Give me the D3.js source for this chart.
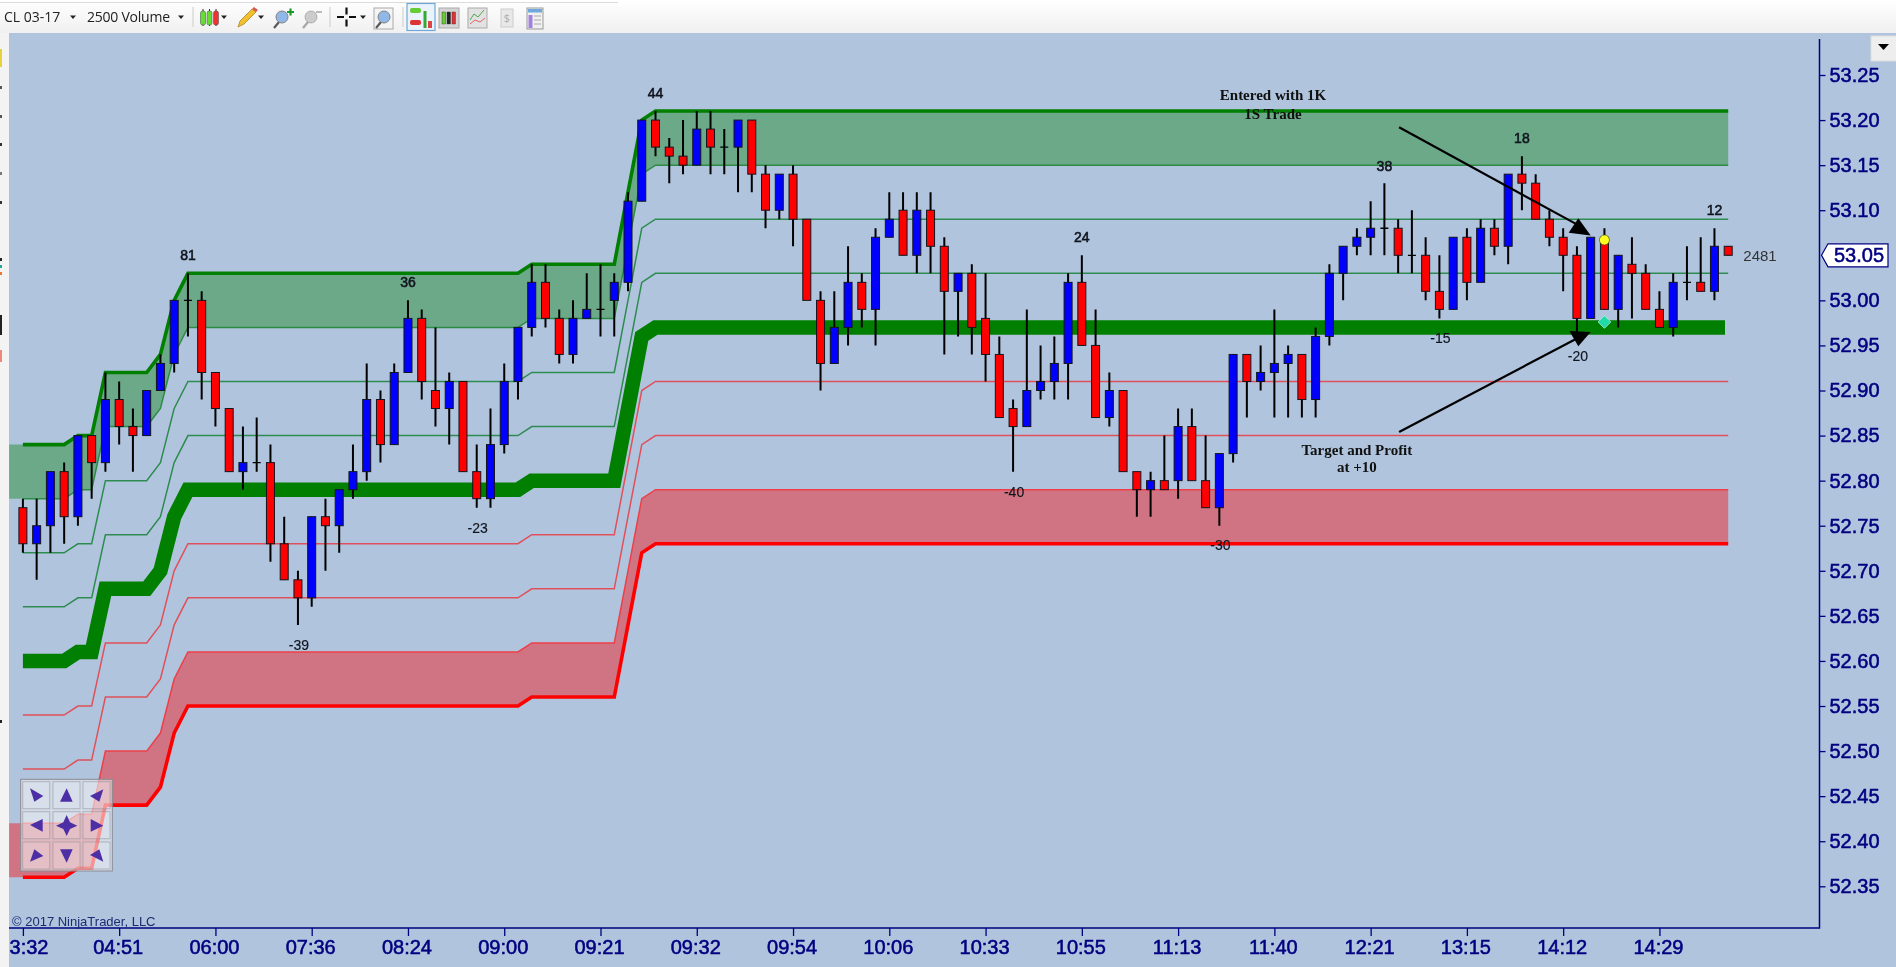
<!DOCTYPE html>
<html><head><meta charset="utf-8">
<script src="https://cdnjs.cloudflare.com/ajax/libs/d3/7.8.5/d3.min.js"></script>
<style>html,body{margin:0;padding:0;background:#B0C4DE;overflow:hidden}svg{display:block;filter:blur(0.45px)}</style>
</head><body><svg id="c" width="1896" height="967"></svg>
<script>
const opens=[52.77,52.73,52.75,52.81,52.76,52.85,52.82,52.89,52.86,52.85,
52.90,52.93,53.00,53.00,52.92,52.88,52.81,52.82,52.82,52.73,
52.69,52.67,52.76,52.75,52.79,52.81,52.89,52.84,52.92,52.98,
52.90,52.88,52.91,52.81,52.78,52.84,52.91,52.97,53.02,52.98,
52.94,52.98,52.99,53.00,53.02,53.11,53.20,53.17,53.16,53.15,
53.19,53.17,53.17,53.20,53.14,53.10,53.14,53.09,53.00,52.93,
52.97,53.02,52.99,53.07,53.10,53.05,53.10,53.06,53.01,53.03,
52.98,52.94,52.88,52.86,52.90,52.91,52.93,53.02,52.95,52.87,
52.90,52.81,52.79,52.80,52.80,52.86,52.80,52.77,52.83,52.94,
52.91,52.92,52.93,52.94,52.89,52.96,53.03,53.06,53.07,53.08,
53.08,53.05,53.05,53.01,52.99,53.07,53.02,53.08,53.06,53.14,
53.13,53.09,53.07,53.05,52.98,53.07,52.99,53.04,53.03,52.99,
52.97,53.02,53.02,53.01,53.06];
const closes=[52.73,52.75,52.81,52.76,52.85,52.82,52.89,52.86,52.85,52.90,
52.93,53.00,53.00,52.92,52.88,52.81,52.82,52.82,52.73,52.69,
52.67,52.76,52.75,52.79,52.81,52.89,52.84,52.92,52.98,52.91,
52.88,52.91,52.81,52.78,52.84,52.91,52.97,53.02,52.98,52.94,
52.98,52.99,52.99,53.02,53.11,53.20,53.17,53.16,53.15,53.19,
53.17,53.17,53.20,53.14,53.10,53.14,53.09,53.00,52.93,52.97,
53.02,52.99,53.07,53.09,53.05,53.10,53.06,53.01,53.03,52.97,
52.94,52.87,52.86,52.90,52.91,52.93,53.02,52.95,52.87,52.90,
52.81,52.79,52.80,52.79,52.86,52.80,52.77,52.83,52.94,52.91,
52.92,52.93,52.94,52.89,52.96,53.03,53.06,53.07,53.08,53.08,
53.05,53.05,53.01,52.99,53.07,53.02,53.08,53.06,53.14,53.13,
53.09,53.07,53.05,52.98,53.07,52.99,53.05,53.03,52.99,52.97,
53.02,53.02,53.01,53.06,53.05];
const highs=[52.78,52.78,52.81,52.82,52.85,52.85,52.92,52.91,52.88,52.90,
52.94,53.00,53.03,53.01,52.92,52.88,52.86,52.87,52.84,52.76,
52.70,52.76,52.78,52.79,52.84,52.93,52.90,52.93,53.00,52.99,
52.97,52.92,52.91,52.84,52.88,52.93,52.97,53.04,53.04,52.99,
53.00,53.03,53.04,53.03,53.12,53.20,53.21,53.18,53.20,53.21,
53.21,53.19,53.20,53.20,53.15,53.14,53.15,53.09,53.01,53.01,
53.06,53.03,53.08,53.12,53.12,53.12,53.12,53.07,53.03,53.04,
53.03,52.96,52.89,52.99,52.95,52.96,53.03,53.05,52.99,52.92,
52.90,52.81,52.81,52.85,52.88,52.88,52.85,52.83,52.94,52.94,
52.95,52.99,52.95,52.94,52.97,53.04,53.06,53.08,53.11,53.13,
53.09,53.10,53.07,53.05,53.07,53.08,53.09,53.09,53.14,53.16,
53.14,53.10,53.08,53.06,53.07,53.08,53.05,53.07,53.04,53.01,
53.03,53.06,53.07,53.08,53.06];
const lows=[52.72,52.69,52.72,52.73,52.75,52.78,52.81,52.84,52.81,52.85,
52.90,52.92,52.96,52.89,52.86,52.81,52.79,52.81,52.71,52.69,
52.64,52.66,52.70,52.72,52.78,52.80,52.82,52.84,52.92,52.89,
52.86,52.84,52.81,52.77,52.77,52.83,52.89,52.96,52.97,52.93,
52.93,52.98,52.96,52.96,53.01,53.11,53.16,53.13,53.14,53.15,
53.14,53.14,53.12,53.12,53.08,53.09,53.06,53.00,52.90,52.93,
52.95,52.97,52.95,53.07,53.05,53.03,53.03,52.94,52.96,52.94,
52.91,52.87,52.81,52.86,52.89,52.89,52.89,52.95,52.87,52.86,
52.81,52.76,52.76,52.79,52.78,52.80,52.77,52.75,52.82,52.87,
52.90,52.87,52.87,52.87,52.87,52.95,53.00,53.05,53.05,53.05,
53.03,53.03,53.00,52.98,52.99,53.00,53.02,53.05,53.04,53.10,
53.09,53.06,53.01,52.96,52.98,52.99,52.97,52.98,52.99,52.97,
52.96,53.00,53.01,53.00,53.05];

// Band breakpoints (bar index, first entry starts left of the first visible bar)
const bandBars=[-1,0,3,4,5,6,9,10,11,12,36,37,43,44,45,46,124];
const bandUpper3=[52.84,52.84,52.84,52.85,52.85,52.92,52.92,52.94,53.00,53.03,53.03,53.04,53.04,53.12,53.20,53.21,53.21];
const bandUpper2=[52.78,52.78,52.78,52.79,52.79,52.86,52.86,52.88,52.94,52.97,52.97,52.98,52.98,53.06,53.14,53.15,53.15];
const bandUpper1=[52.72,52.72,52.72,52.73,52.73,52.80,52.80,52.82,52.88,52.91,52.91,52.92,52.92,53.00,53.08,53.09,53.09];
const bandUpper0=[52.66,52.66,52.66,52.67,52.67,52.74,52.74,52.76,52.82,52.85,52.85,52.86,52.86,52.94,53.02,53.03,53.03];
const bandCenter=[52.60,52.60,52.60,52.61,52.61,52.68,52.68,52.70,52.76,52.79,52.79,52.80,52.80,52.88,52.96,52.97,52.97];
const bandLower0=[52.54,52.54,52.54,52.55,52.55,52.62,52.62,52.64,52.70,52.73,52.73,52.74,52.74,52.82,52.90,52.91,52.91];
const bandLower1=[52.48,52.48,52.48,52.49,52.49,52.56,52.56,52.58,52.64,52.67,52.67,52.68,52.68,52.76,52.84,52.85,52.85];
const bandLower2=[52.42,52.42,52.42,52.43,52.43,52.50,52.50,52.52,52.58,52.61,52.61,52.62,52.62,52.70,52.78,52.79,52.79];
const bandLower3=[52.36,52.36,52.36,52.37,52.37,52.44,52.44,52.46,52.52,52.55,52.55,52.56,52.56,52.64,52.72,52.73,52.73];

const timeLabels=["3:32","04:51","06:00","07:36","08:24","09:00","09:21","09:32","09:54","10:06","10:33","10:55","11:13","11:40","12:21","13:15","14:12","14:29"];
const priceTicks=[53.25,53.20,53.15,53.10,53.00,52.95,52.90,52.85,52.80,52.75,52.70,52.65,52.60,52.55,52.50,52.45,52.40,52.35];
const swingText=["81","36","-23","-39","44","24","-40","-30","38","18","12","-15","-20"];
const swingBar=[12,28,33,20,46,77,72,87,99,109,123,103,113];
const swingPrice=[53.05,53.02,52.747,52.618,53.23,53.07,52.787,52.729,53.149,53.18,53.10,52.958,52.938];
const noteText=["Entered with 1K","1S Trade","Target and Profit","at +10"];
const noteBar=[90.9,90.9,97,97];
const notePrice=[53.228,53.207,52.834,52.815];
const arrowLineBars=[[100.07,113.03],[100.07,113.03]];
const arrowLinePrices=[[53.192,53.084],[52.854,52.958]];
const arrowHeadBars=[[113.1,112.4,114],[112.45,114,113.1]];
const arrowHeadPrices=[[53.091,53.075,53.072],[52.966,52.965,52.949]];
const lastPrice=53.05, lastVolume="2481", entryBar=115, entryPrice=53.067, exitPrice=52.976;

const svg=d3.select("#c");
const L=9,R=1819.5,T=33,B=928;
const x=d3.scaleLinear().domain([0,124]).range([22.9,1728.2]);
const y=d3.scaleLinear().domain([52.35,53.25]).range([886.3,75]);
const NAVY="#000080";

const defs=svg.append("defs");
defs.append("clipPath").attr("id","plot").append("rect").attr("x",L).attr("y",T).attr("width",R-L).attr("height",967-T);
defs.append("clipPath").attr("id","centerClip").append("rect").attr("x",0).attr("y",T).attr("width",1725).attr("height",967-T);
svg.append("rect").attr("width",1896).attr("height",967).attr("fill","#B0C4DE");
const plot=svg.append("g").attr("clip-path","url(#plot)");

// Bands
const idx=bandBars.map((b,i)=>i);
const fillArea=(hi,lo,col)=>plot.append("path").attr("fill",col)
  .attr("d",d3.area().x(i=>x(bandBars[i])).y0(i=>y(lo[i])).y1(i=>y(hi[i]))(idx));
fillArea(bandUpper3,bandUpper2,"#6CA989");
fillArea(bandLower2,bandLower3,"#D07484");
const lineFn=arr=>d3.line().x(i=>x(bandBars[i])).y(i=>y(arr[i]))(idx.slice(1));
[[bandUpper2,"#2E8B45",1.5],[bandUpper1,"#2E8B50",1.5],[bandUpper0,"#2E8B50",1.5],
 [bandLower0,"#E0505A",1.5],[bandLower1,"#E0505A",1.5],[bandLower2,"#EE3F48",1.5],
 [bandCenter,"#007F00",14.5],[bandUpper3,"#007F00",3.6],[bandLower3,"#FF0000",3.6]]
 .forEach(([a,c,w])=>plot.append("path").attr("fill","none").attr("stroke",c).attr("stroke-width",w).attr("stroke-linejoin","miter")
   .attr("clip-path",a===bandCenter?"url(#centerClip)":null).attr("d",lineFn(a)));

// Candles
const bars=plot.append("g").selectAll("g").data(opens.map((o,i)=>i)).join("g");
bars.append("line").attr("x1",i=>x(i)).attr("x2",i=>x(i)).attr("y1",i=>y(highs[i])).attr("y2",i=>y(lows[i]))
  .attr("stroke","#000").attr("stroke-width",2);
bars.filter(i=>opens[i]!==closes[i]).append("rect")
  .attr("x",i=>x(i)-4).attr("width",8)
  .attr("y",i=>y(Math.max(opens[i],closes[i])))
  .attr("height",i=>Math.abs(y(opens[i])-y(closes[i])))
  .attr("fill",i=>closes[i]>opens[i]?"#0000FF":"#FF0000")
  .attr("stroke","#14141e").attr("stroke-width",1);
bars.filter(i=>opens[i]===closes[i]).append("line")
  .attr("x1",i=>x(i)-4).attr("x2",i=>x(i)+4).attr("y1",i=>y(opens[i])).attr("y2",i=>y(opens[i]))
  .attr("stroke","#000").attr("stroke-width",1.3);

// Entry / exit markers
plot.append("circle").attr("cx",x(entryBar)).attr("cy",y(entryPrice)).attr("r",5).attr("fill","#FFFF20").attr("stroke","#5a5a20").attr("stroke-width",.7);
plot.append("path").attr("d",d3.symbol(d3.symbolSquare,80)()).attr("transform",`translate(${x(entryBar)},${y(exitPrice)}) rotate(45)`)
  .attr("fill","#20D8A8").attr("stroke","#9ff0d8").attr("stroke-width",.8);

// Drawn arrows
arrowLineBars.forEach((b,k)=>plot.append("line").attr("x1",x(b[0])).attr("x2",x(b[1]))
  .attr("y1",y(arrowLinePrices[k][0])).attr("y2",y(arrowLinePrices[k][1])).attr("stroke","#000").attr("stroke-width",2.2));
arrowHeadBars.forEach((b,k)=>plot.append("path").attr("fill","#000")
  .attr("d","M"+b.map((v,j)=>x(v)+","+y(arrowHeadPrices[k][j])).join("L")+"Z"));

// Swing labels
plot.append("g").selectAll("text").data(swingText).join("text")
  .attr("x",(d,i)=>x(swingBar[i])+(d[0]==="-"?1:0)).attr("y",(d,i)=>y(swingPrice[i]))
  .attr("text-anchor","middle").attr("dominant-baseline","central")
  .attr("font-family","'Liberation Sans',Arial,sans-serif").attr("font-size",14).attr("fill","#10141c")
  .attr("stroke","#10141c").attr("stroke-width",d=>d[0]==="-"?.15:.55).text(d=>d);

// Notes
plot.append("g").selectAll("text").data(noteText).join("text")
  .attr("x",(d,i)=>x(noteBar[i])).attr("y",(d,i)=>y(notePrice[i]))
  .attr("text-anchor","middle").attr("dominant-baseline","central")
  .attr("font-family","'Liberation Serif',serif").attr("font-weight","bold").attr("font-size",15).attr("fill","#101010").text(d=>d);

// Axes
const tickBars=timeLabels.map((d,i)=>i*7);
const xAxis=d3.axisBottom(x).tickValues(tickBars).tickFormat((d,i)=>timeLabels[i]).tickSize(8).tickPadding(4).tickSizeOuter(0);
const gx=svg.append("g").attr("transform",`translate(0,${B})`).call(xAxis);
const yAxis=d3.axisRight(y).tickValues(priceTicks).tickFormat(d3.format(".2f")).tickSize(6).tickPadding(4).tickSizeOuter(0);
const gy=svg.append("g").attr("transform",`translate(${R},0)`).call(yAxis);
[gx,gy].forEach(g=>{g.select(".domain").remove();
  g.selectAll(".tick line").attr("stroke",NAVY).attr("stroke-width",1.3);
  g.selectAll("text").attr("fill",NAVY).attr("font-family","'Liberation Sans',Arial,sans-serif").attr("font-size",20)
   .attr("stroke",NAVY).attr("stroke-width",.55);});
gx.selectAll("text").attr("dx",(d,i)=>i===0?5.6:-1.5);
svg.append("path").attr("fill","none").attr("stroke",NAVY).attr("stroke-width",1.5)
  .attr("d",`M${L},${B}H${R}V39`);

// Last price flag
const ly=y(lastPrice);
svg.append("path").attr("d",`M${R+2},${ly}L${R+8.5},${ly-11.5}H1888V${ly+11.5}H${R+8.5}Z`).attr("fill","#fff").attr("stroke",NAVY).attr("stroke-width",1.2);
svg.append("text").attr("x",1859).attr("y",ly-0.5).attr("text-anchor","middle").attr("dominant-baseline","central")
  .attr("font-family","'Liberation Sans',Arial,sans-serif").attr("font-size",20).attr("stroke",NAVY).attr("stroke-width",.55).attr("fill",NAVY).text(lastPrice.toFixed(2));
svg.append("text").attr("x",1760).attr("y",255).attr("text-anchor","middle").attr("dominant-baseline","central")
  .attr("font-family","'Liberation Sans',Arial,sans-serif").attr("font-size",15).attr("fill","#333").text(lastVolume);

// Copyright
svg.append("text").attr("x",12).attr("y",921).attr("dominant-baseline","central")
  .attr("font-family","'Liberation Sans',Arial,sans-serif").attr("font-size",13).attr("fill","#1c2c70").text("© 2017 NinjaTrader, LLC");

// Navigation pad
const pad=svg.append("g");
pad.append("rect").attr("x",20.7).attr("y",779.3).attr("width",91.6).attr("height",91.7).attr("fill","rgba(238,238,238,.55)").attr("stroke","#8a8a92").attr("stroke-width",1);
[22.7,53,83].forEach(cx=>[781.7,811.7,842].forEach(cy=>pad.append("rect").attr("x",cx).attr("y",cy).attr("width",27).attr("height",27).attr("fill","rgba(255,255,255,.12)").attr("stroke","rgba(150,150,160,.6)")));
const padShapes=[[[90,55],[130,78],[103,95]],[[200,55],[180,95],[218,95]],[[310,58],[270,78],[298,95]],
 [[90,165],[128,147],[128,185]],[[200,135],[210,157],[232,167],[210,177],[200,198],[190,177],[168,167],[190,157]],[[310,167],[272,147],[272,185]],
 [[90,275],[103,238],[130,258]],[[200,278],[180,238],[218,238]],[[310,275],[270,255],[298,238]]];
padShapes.forEach(s=>pad.append("path").attr("fill","#4D2FA5").attr("d","M"+s.map(p=>(p[0]/3)+","+(770+p[1]/3)).join("L")+"Z"));

// Window chrome
const grad=defs.append("linearGradient").attr("id","tb").attr("x1",0).attr("x2",0).attr("y1",0).attr("y2",1);
grad.append("stop").attr("offset",0).attr("stop-color","#ffffff");
grad.append("stop").attr("offset",1).attr("stop-color","#f0f0f0");
svg.append("rect").attr("width",1896).attr("height",33).attr("fill","url(#tb)");
svg.append("rect").attr("y",33).attr("width",L).attr("height",934).attr("fill","#f3f3f3");
svg.append("line").attr("x1",0).attr("x2",618).attr("y1",2.5).attr("y2",2.5).attr("stroke","#dcdcdc");
[[0,49,2,18,"#e8d23a"],[0,86,2,3,"#555"],[0,115,2,3,"#555"],[0,143,2,3,"#333"],[0,172,2,3,"#777"],[0,201,2,3,"#333"],[0,258,2,3,"#222"],[0,265,2,3,"#2a9"],[0,272,2,3,"#e73"],[0,315,2,20,"#222"],[0,350,2,12,"#e87"],[0,720,2,3,"#222"]]
 .forEach(r=>svg.append("rect").attr("x",r[0]).attr("y",r[1]).attr("width",r[2]).attr("height",r[3]).attr("fill",r[4]));
const tb=svg.append("g").attr("font-family","'Open Sans','Noto Sans',sans-serif").attr("fill","#222");
tb.append("text").attr("x",4).attr("y",22).attr("font-size",14).text("CL 03-17");
tb.append("text").attr("x",87).attr("y",22).attr("font-size",14).attr("textLength",83).text("2500 Volume");
const caret=cx=>tb.append("path").attr("d",`M${cx-3},15.5h6l-3,3.5z`).attr("fill","#222");
[73,181,224,261,363].forEach(caret);
[193,330,403].forEach(sx=>tb.append("line").attr("x1",sx).attr("x2",sx).attr("y1",7).attr("y2",27).attr("stroke","#ccc"));
const candleIcon=(sx,cols,stroke)=>cols.forEach((c,i)=>{tb.append("line").attr("x1",sx+3+i*6.5).attr("x2",sx+3+i*6.5).attr("y1",9).attr("y2",30-4).attr("stroke",stroke);
  tb.append("rect").attr("x",sx+i*6.5+.5).attr("y",11).attr("width",5).attr("height",14).attr("rx",2).attr("fill",c).attr("stroke","#444").attr("stroke-width",.5);});
candleIcon(200,["#66dd33","#66dd33","#ee3333"],"#333");
tb.append("path").attr("d","M238,27l2,-6 12,-12 4,3 -12,12z").attr("fill","#f0c030").attr("stroke","#a87a10").attr("stroke-width",.7);
tb.append("path").attr("d","M252,9l4,3 2,-2 -4,-3z").attr("fill","#d9584a");
const lens=(cx,o)=>{tb.append("line").attr("x1",cx-8).attr("x2",cx-3).attr("y1",28).attr("y2",22).attr("stroke",`rgba(90,90,90,${o})`).attr("stroke-width",2.2);
  tb.append("circle").attr("cx",cx).attr("cy",17).attr("r",6).attr("fill",o>.6?"#8fb8e8":"#ccc").attr("stroke",`rgba(130,130,130,${o})`);};
lens(282,1); tb.append("path").attr("d","M287,12h7M290.5,8.5v7").attr("stroke","#1a9a2a").attr("stroke-width",2.2);
lens(311,.5); tb.append("path").attr("d","M316,12h6").attr("stroke","#bbb").attr("stroke-width",2);
tb.append("path").attr("d","M337,17h7M349,17h7M346.5,7.5v7M346.5,19.5v7").attr("stroke","#111").attr("stroke-width",2.2);
tb.append("rect").attr("x",374).attr("y",8).attr("width",19).attr("height",21).attr("fill","#f4f4f4").attr("stroke","#aaa");
lens(384,1);
tb.append("rect").attr("x",407).attr("y",3.5).attr("width",28).attr("height",27).attr("fill","#eaf3fb").attr("stroke","#6ea8d8").attr("stroke-width",1.2);
tb.append("rect").attr("x",410).attr("y",8).attr("width",11).attr("height",5).attr("rx",2).attr("fill","#66cc33");
tb.append("rect").attr("x",410).attr("y",20).attr("width",11).attr("height",5).attr("rx",2).attr("fill","#dd3333");
tb.append("rect").attr("x",423.5).attr("y",11).attr("width",3).attr("height",17).attr("fill","#33aa33");
tb.append("rect").attr("x",428).attr("y",21).attr("width",4).attr("height",7).attr("fill","#dd4444");
tb.append("rect").attr("x",439).attr("y",8).attr("width",20).attr("height",20).attr("fill","#d5d5d5").attr("stroke","#aaa");
[["#66cc33",442],["#222",447],["#dd3333",452]].forEach(([c,sx])=>{tb.append("rect").attr("x",sx).attr("y",12).attr("width",3.5).attr("height",12).attr("fill",c).attr("stroke","#333").attr("stroke-width",.4);});
tb.append("rect").attr("x",468).attr("y",8).attr("width",19).attr("height",20).attr("fill","#e2e2e2").attr("stroke","#aaa");
tb.append("path").attr("d","M470,20l4,-6 4,3 6,-7").attr("fill","none").attr("stroke","#4aa84a");
tb.append("path").attr("d","M470,24l5,-4 5,2 5,-4").attr("fill","none").attr("stroke","#d66");
tb.append("rect").attr("x",501).attr("y",9).attr("width",12).attr("height",18).attr("fill","#e8e8e8").attr("stroke","#ccc");
tb.append("text").attr("x",507).attr("y",22).attr("text-anchor","middle").attr("font-size",11).attr("fill","#aaa").text("$");
tb.append("rect").attr("x",527).attr("y",8).attr("width",16).attr("height",21).attr("fill","#f0f0f0").attr("stroke","#999");
tb.append("rect").attr("x",528).attr("y",9).attr("width",14).attr("height",3.5).attr("fill","#6fa8dc");
tb.append("rect").attr("x",528.5).attr("y",15).attr("width",4).attr("height",13).attr("fill","#a080e0");
tb.append("path").attr("d","M534,16h7M534,20h7M534,24h7").attr("stroke","#aaa");
// Right corner button
svg.append("rect").attr("x",1871).attr("y",36).attr("width",26).attr("height",25).attr("fill","#eeeeee").attr("stroke","#ddd");
svg.append("path").attr("d","M1878,44h11l-5.5,6z").attr("fill","#000");
</script></body></html>
